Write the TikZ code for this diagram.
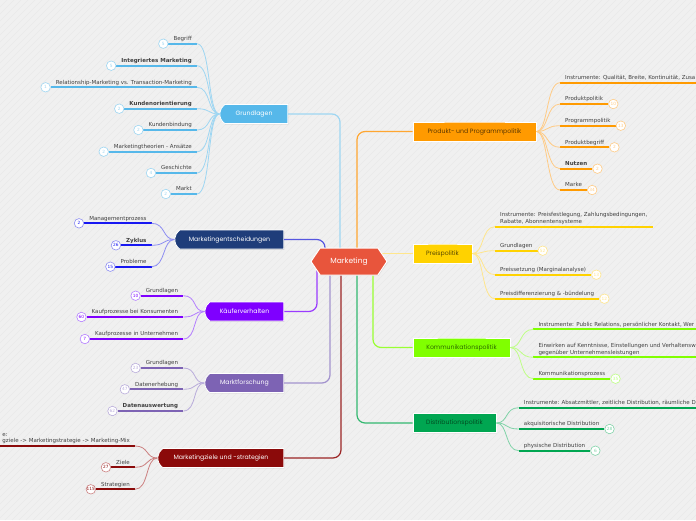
\documentclass[tikz,border=0pt]{standalone}
\usepackage{fontspec}
\setmainfont{DejaVu Sans}
\newfontfamily\topicfont{Poppins}
\usepackage{tikz}
\usetikzlibrary{positioning,calc,shapes.misc,shapes.symbols,shadows}
\definecolor{MKBack}{HTML}{F0F0F0}
\definecolor{MKStripe}{HTML}{E9E9E9}
\definecolor{MKCoral}{HTML}{E8553C}
\definecolor{MKText}{HTML}{404040}
\definecolor{MKBlue}{HTML}{56B8EA}
\definecolor{MKBlueTwig}{HTML}{9ED6F2}
\definecolor{MKNavy}{HTML}{1F3D7A}
\definecolor{MKNavyBar}{HTML}{1818F2}
\definecolor{MKNavyTwig}{HTML}{8E8EF2}
\definecolor{MKNavySpine}{HTML}{5656E0}
\definecolor{MKViolet}{HTML}{7F00FF}
\definecolor{MKVioletTwig}{HTML}{B47EFF}
\definecolor{MKVioletSpine}{HTML}{9A3BFF}
\definecolor{MKLav}{HTML}{7D63B4}
\definecolor{MKLavTwig}{HTML}{B9ACDB}
\definecolor{MKLavSpine}{HTML}{A393CE}
\definecolor{MKRed}{HTML}{8B0A0A}
\definecolor{MKRedTwig}{HTML}{CC8080}
\definecolor{MKRedSpine}{HTML}{9B2525}
\definecolor{MKOrange}{HTML}{FF9A00}
\definecolor{MKOrangeTwig}{HTML}{FFCB85}
\definecolor{MKOrangeSpine}{HTML}{FFA630}
\definecolor{MKOrangeText}{HTML}{5C3800}
\definecolor{MKYellow}{HTML}{FFD200}
\definecolor{MKYellowTwig}{HTML}{FFE68C}
\definecolor{MKYellowText}{HTML}{5A4A00}
\definecolor{MKLime}{HTML}{80FF00}
\definecolor{MKLimeTwig}{HTML}{BEFF85}
\definecolor{MKLimeSpine}{HTML}{99FF33}
\definecolor{MKLimeText}{HTML}{2E6B00}
\definecolor{MKGreen}{HTML}{00A651}
\definecolor{MKGreenTwig}{HTML}{80D3A8}
\definecolor{MKGreenSpine}{HTML}{33B870}
\definecolor{MKGreenText}{HTML}{004D22}

\begin{document}
\begin{tikzpicture}[x=1pt,y=-1pt,
 topicL/.style={rounded rectangle,rounded rectangle east arc=none,rounded rectangle arc length=110,
   draw=white,line width=0.8pt,
   minimum height=19pt,inner sep=0pt,text=white,font=\topicfont\fontsize{6.2}{7}\selectfont,
   drop shadow={opacity=0.25,shadow xshift=0.6pt,shadow yshift=-0.9pt}},
 topicR/.style={topicL,rounded rectangle east arc=normal,rounded rectangle west arc=none},
 hubnode/.style={signal,signal to=west and east,signal pointer angle=112,fill=MKCoral,draw=white,
   line width=1pt,minimum width=76pt,minimum height=27pt,inner sep=0pt,text=white,
   font=\topicfont\fontsize{7.5}{9}\selectfont,
   drop shadow={opacity=0.25,shadow xshift=0.6pt,shadow yshift=-0.9pt}},
 leaf/.style={inner xsep=5pt,inner ysep=2pt,text depth=1pt,text=MKText,
   font=\fontsize{5.5}{6.6}\selectfont},
 cnt/.style={circle,draw,fill=white,inner sep=0pt,minimum size=9.5pt,line width=0.6pt,
   font=\fontsize{4.3}{5}\selectfont},
 bar/.style={line width=2.2pt},
 twig/.style={line width=0.8pt},
 spine/.style={line width=1.2pt,rounded corners=8pt}]
\useasboundingbox (0,0) rectangle (696,520);
\fill[MKBack] (0,0) rectangle (696,520);
\foreach \i in {-520,-513,...,696}
  \draw[MKStripe,line width=0.4pt] (\i,520) -- (\i+520,0);

\coordinate (hub) at (349,261.5);

% main topics
\node[topicL,fill=MKBlue,minimum width=68pt] (grund) at (254,114) {Grundlagen};
\node[topicL,fill=MKNavy,minimum width=109pt] (ment) at (229.5,239.5) {Marketingentscheidungen};
\node[topicL,fill=MKViolet,minimum width=79pt] (kauf) at (244.5,311.5) {Käuferverhalten};
\node[topicL,fill=MKLav,minimum width=79pt] (mfor) at (244.5,383) {Marktforschung};
\node[topicL,fill=MKRed,minimum width=126pt] (mziel) at (221,458) {Marketingziele und -strategien};
\node[topicR,fill=MKOrange,text=MKOrangeText,minimum width=123pt] (prod) at (474.5,131.5) {Produkt- und Programmpolitik};
\node[topicR,fill=MKYellow,text=MKYellowText,minimum width=59pt] (preis) at (442.5,253.5) {Preispolitik};
\node[topicR,fill=MKLime,text=MKLimeText,minimum width=97pt] (komm) at (461.5,347.5) {Kommunikationspolitik};
\node[topicR,fill=MKGreen,text=MKGreenText,minimum width=83pt] (dist) at (454.5,423) {Distributionspolitik};

% spines to the centre
\draw[spine,MKBlueTwig] (grund.east) -| ($(hub)+(-9,0)$);
\draw[spine,MKNavySpine] (ment.east) -| ($(hub)+(-24,0)$);
\draw[spine,MKVioletSpine] (kauf.east) -| ($(hub)+(-32,0)$);
\draw[spine,MKLavSpine] (mfor.east) -| ($(hub)+(-19,0)$);
\draw[spine,MKRedSpine] (mziel.east) -| ($(hub)+(-8,0)$);
\draw[spine,MKOrangeSpine] (prod.west) -| ($(hub)+(8,0)$);
\draw[spine,MKYellowTwig] (preis.west) -- (preis.west -| hub);
\draw[spine,MKLimeSpine] (komm.west) -| ($(hub)+(24,0)$);
\draw[spine,MKGreenSpine] (dist.west) -| ($(hub)+(8,0)$);

\node[hubnode] (mkt) at (hub) {Marketing};

% Grundlagen
\begin{scope}[bar/.append style={draw=MKBlue},twig/.append style={draw=MKBlueTwig},
  cnt/.append style={draw=MKBlueTwig,text=MKBlueTwig}]
\foreach \y/\lbl/\nn [count=\k] in {43.7/Begriff/5,65.7/\textbf{Integriertes Marketing}/5,
  87.3/Relationship-Marketing vs. Transaction-Marketing/1,108.7/\textbf{Kundenorientierung}/2,
  130/Kundenbindung/2,151.7/Marketingtheorien - Ansätze/2,173/Geschichte/4,194/Markt/2}{
  \node[leaf,anchor=south east] (g\k) at (197,\y) {\lbl};
  \draw[bar] (g\k.south west) -- (g\k.south east);
  \node[cnt,left=0pt of g\k.south west] (gn\k) {\nn};
  \draw[twig] (grund.west) .. controls +(-12,0) and +(14,0) .. (g\k.south east);
}
\end{scope}

% Marketingentscheidungen
\begin{scope}[bar/.append style={draw=MKNavyBar},twig/.append style={draw=MKNavyTwig},
  cnt/.append style={draw=MKNavyTwig,text=MKNavyBar}]
\foreach \y/\lbl/\nn [count=\k] in {223.3/Managementprozess/2,245.3/\textbf{Zyklus}/26,266.7/Probleme/15}{
  \node[leaf,anchor=south east] (e\k) at (151.7,\y) {\lbl};
  \draw[bar] (e\k.south west) -- (e\k.south east);
  \node[cnt,left=0pt of e\k.south west] (en\k) {\nn};
  \draw[twig] (ment.west) .. controls +(-12,0) and +(14,0) .. (e\k.south east);
}
\end{scope}

% Kaeuferverhalten
\begin{scope}[bar/.append style={draw=MKViolet},twig/.append style={draw=MKVioletTwig},
  cnt/.append style={draw=MKVioletTwig,text=MKViolet}]
\foreach \y/\lbl/\nn [count=\k] in {295.7/Grundlagen/10,317/Kaufprozesse bei Konsumenten/60,
  339/Kaufprozesse in Unternehmen/7}{
  \node[leaf,anchor=south east] (k\k) at (183.3,\y) {\lbl};
  \draw[bar] (k\k.south west) -- (k\k.south east);
  \node[cnt,left=0pt of k\k.south west] (kn\k) {\nn};
  \draw[twig] (kauf.west) .. controls +(-12,0) and +(14,0) .. (k\k.south east);
}
\end{scope}

% Marktforschung
\begin{scope}[bar/.append style={draw=MKLav},twig/.append style={draw=MKLavTwig},
  cnt/.append style={draw=MKLavTwig,text=MKLavTwig}]
\foreach \y/\lbl/\nn [count=\k] in {368/Grundlagen/23,389.3/Datenerhebung/47,
  411/\textbf{Datenauswertung}/62}{
  \node[leaf,anchor=south east] (f\k) at (183.3,\y) {\lbl};
  \draw[bar] (f\k.south west) -- (f\k.south east);
  \node[cnt,left=0pt of f\k.south west] (fn\k) {\nn};
  \draw[twig] (mfor.west) .. controls +(-12,0) and +(14,0) .. (f\k.south east);
}
\end{scope}

% Marketingziele und -strategien
\begin{scope}[bar/.append style={draw=MKRed},twig/.append style={draw=MKRedTwig},
  cnt/.append style={draw=MKRedTwig,text=MKRed}]
\node[leaf,anchor=south east,align=left] (z0) at (135,446) {e:\\gziele -> Marketingstrategie -> Marketing-Mix};
\draw[bar] (z0.south east) -- ++(-140,0);
\draw[twig] (mziel.west) .. controls +(-12,0) and +(14,0) .. (z0.south east);
\foreach \y/\lbl/\nn [count=\k] in {467.3/Ziele/27,489.3/Strategien/115}{
  \node[leaf,anchor=south east] (z\k) at (135,\y) {\lbl};
  \draw[bar] (z\k.south west) -- (z\k.south east);
  \node[cnt,left=0pt of z\k.south west] (zn\k) {\nn};
  \draw[twig] (mziel.west) .. controls +(-12,0) and +(14,0) .. (z\k.south east);
}
\end{scope}

% Produkt- und Programmpolitik
\begin{scope}[bar/.append style={draw=MKOrange},twig/.append style={draw=MKOrangeTwig},
  cnt/.append style={draw=MKOrangeTwig,text=MKOrangeTwig}]
\node[leaf,anchor=south west] (p0) at (560,82.7) {Instrumente: Qualität, Breite, Kontinuität, Zusa};
\draw[bar] (p0.south west) -- ++(140,0);
\draw[twig] (prod.east) .. controls +(12,0) and +(-14,0) .. (p0.south west);
\foreach \y/\lbl/\nn [count=\k] in {104/Produktpolitik/10,125.7/Programmpolitik/13,
  147.3/Produktbegriff/2,168.7/\textbf{Nutzen}/2,190/Marke/34}{
  \node[leaf,anchor=south west] (p\k) at (560,\y) {\lbl};
  \draw[bar] (p\k.south west) -- (p\k.south east);
  \node[cnt,right=0pt of p\k.south east] (pn\k) {\nn};
  \draw[twig] (prod.east) .. controls +(12,0) and +(-14,0) .. (p\k.south west);
}
\end{scope}

% Preispolitik
\begin{scope}[bar/.append style={draw=MKYellow},twig/.append style={draw=MKYellowTwig},
  cnt/.append style={draw=MKYellowTwig,text=MKYellowTwig}]
\node[leaf,anchor=south west,align=left] (r0) at (495,226.7) {Instrumente: Preisfestlegung, Zahlungsbedingungen,\\Rabatte, Abonnentensysteme};
\draw[bar] (r0.south west) -- (r0.south east);
\draw[twig] (preis.east) .. controls +(12,0) and +(-14,0) .. (r0.south west);
\foreach \y/\lbl/\nn [count=\k] in {250.7/Grundlagen/52,274.7/Preissetzung (Marginalanalyse)/13,
  298.7/Preisdifferenzierung \& -bündelung/12}{
  \node[leaf,anchor=south west] (r\k) at (495,\y) {\lbl};
  \draw[bar] (r\k.south west) -- (r\k.south east);
  \node[cnt,right=0pt of r\k.south east] (rn\k) {\nn};
  \draw[twig] (preis.east) .. controls +(12,0) and +(-14,0) .. (r\k.south west);
}
\end{scope}

% Kommunikationspolitik
\begin{scope}[bar/.append style={draw=MKLime},twig/.append style={draw=MKLimeTwig},
  cnt/.append style={draw=MKLimeTwig,text=MKLimeTwig}]
\node[leaf,anchor=south west] (c1) at (533.3,329.3) {Instrumente: Public Relations, persönlicher Kontakt, Wer};
\node[leaf,anchor=south west,align=left] (c2) at (533.3,357.3) {Einwirken auf Kenntnisse, Einstellungen und Verhaltensw\\gegenüber Unternehmensleistungen};
\node[leaf,anchor=south west] (c3) at (533.3,378.7) {Kommunikationsprozess};
\node[cnt,right=0pt of c3.south east] (cn3) {35};
\foreach \k in {1,2}
  \draw[bar] (c\k.south west) -- ++(180,0);
\draw[bar] (c3.south west) -- (c3.south east);
\foreach \k in {1,2,3}
  \draw[twig] (komm.east) .. controls +(12,0) and +(-14,0) .. (c\k.south west);
\end{scope}

% Distributionspolitik
\begin{scope}[bar/.append style={draw=MKGreen},twig/.append style={draw=MKGreenTwig},
  cnt/.append style={draw=MKGreenTwig,text=MKGreenTwig}]
\node[leaf,anchor=south west] (d0) at (518.7,407.7) {Instrumente: Absatzmittler, zeitliche Distribution, räumliche Di};
\draw[bar] (d0.south west) -- ++(190,0);
\draw[twig] (dist.east) .. controls +(12,0) and +(-14,0) .. (d0.south west);
\foreach \y/\lbl/\nn [count=\k] in {429/akquisitorische Distribution/28,450.7/physische Distribution/6}{
  \node[leaf,anchor=south west] (d\k) at (518.7,\y) {\lbl};
  \draw[bar] (d\k.south west) -- (d\k.south east);
  \node[cnt,right=0pt of d\k.south east] (dn\k) {\nn};
  \draw[twig] (dist.east) .. controls +(12,0) and +(-14,0) .. (d\k.south west);
}
\end{scope}
\end{tikzpicture}
\end{document}
